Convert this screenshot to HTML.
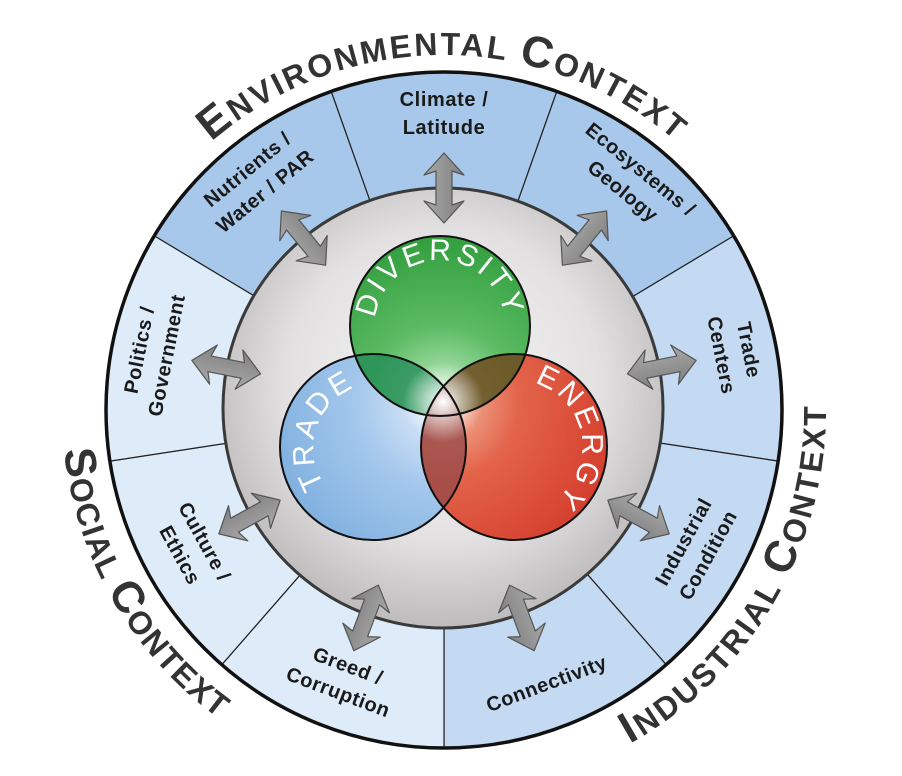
<!DOCTYPE html>
<html><head><meta charset="utf-8"><style>html,body{margin:0;padding:0;background:#fff}svg{display:block}</style></head><body>
<svg width="902" height="776" viewBox="0 0 902 776" xmlns="http://www.w3.org/2000/svg" font-family="Liberation Sans, sans-serif">
<defs>
<radialGradient id="gray" cx="50%" cy="45%" r="55%"><stop offset="0" stop-color="#f9f9f9"/><stop offset="0.65" stop-color="#e2e0e0"/><stop offset="1" stop-color="#bdbbbb"/></radialGradient>
<radialGradient id="gG" cx="443" cy="402" r="170" gradientUnits="userSpaceOnUse"><stop offset="0" stop-color="#c8efc8"/><stop offset="0.45" stop-color="#5cbb64"/><stop offset="1" stop-color="#2f9d3c"/></radialGradient>
<radialGradient id="gB" cx="443" cy="402" r="190" gradientUnits="userSpaceOnUse"><stop offset="0" stop-color="#e6f0fb"/><stop offset="0.45" stop-color="#a5c8ec"/><stop offset="1" stop-color="#7badde"/></radialGradient>
<radialGradient id="gR" cx="443" cy="402" r="190" gradientUnits="userSpaceOnUse"><stop offset="0" stop-color="#f5c0a8"/><stop offset="0.4" stop-color="#e3644a"/><stop offset="1" stop-color="#d33a2a"/></radialGradient>
<radialGradient id="glow" cx="443" cy="402" r="40" gradientUnits="userSpaceOnUse"><stop offset="0" stop-color="#fff" stop-opacity="1"/><stop offset="1" stop-color="#fff" stop-opacity="0"/></radialGradient>
<linearGradient id="arr" x1="0" y1="0" x2="1" y2="0"><stop offset="0" stop-color="#a8a8a8"/><stop offset="1" stop-color="#808080"/></linearGradient>
<clipPath id="cG"><circle cx="440" cy="326" r="90"/></clipPath>
<clipPath id="cB"><circle cx="373" cy="447" r="93"/></clipPath>
<path id="pEnv" d="M206.5,146.2 A355,355 0 0 1 681.5,146.2"/>
<path id="pSoc" d="M85,279.4 A382,382 0 0 0 377.7,786.2"/>
<path id="pInd" d="M510.3,786.2 A382,382 0 0 0 803,279.4"/>
<path id="pDiv" d="M376.1,337.2 A65,65 0 1 1 503.9,337.2"/>
<path id="pTra" d="M350.8,508 A66,66 0 0 1 391.2,383.6"/>
<path id="pEne" d="M504.8,381.6 A66,66 0 0 1 527.7,511.6"/>
<polygon id="ar" points="0,-35 20,-13 8,-17 8,17 20,13 0,35 -20,13 -8,17 -8,-17 -20,-13" fill="url(#arr)" stroke="#555" stroke-width="1.2" stroke-linejoin="round"/>
</defs>
<g stroke="#222" stroke-width="1.2">
<path d="M444,410 L331.2,91.4 A338,338 0 0 1 556.8,91.4Z" fill="#a7c8ea"/>
<path d="M444,410 L556.8,91.4 A338,338 0 0 1 733.7,235.9Z" fill="#a7c8ea"/>
<path d="M444,410 L154.3,235.9 A338,338 0 0 1 331.2,91.4Z" fill="#a7c8ea"/>
<path d="M444,410 L733.7,235.9 A338,338 0 0 1 778.1,461.1Z" fill="#c3daf2"/>
<path d="M444,410 L778.1,461.1 A338,338 0 0 1 666.2,664.7Z" fill="#c3daf2"/>
<path d="M444,410 L666.2,664.7 A338,338 0 0 1 444,748Z" fill="#c3daf2"/>
<path d="M444,410 L444,748 A338,338 0 0 1 221.8,664.7Z" fill="#deecf9"/>
<path d="M444,410 L221.8,664.7 A338,338 0 0 1 109.9,461.1Z" fill="#deecf9"/>
<path d="M444,410 L109.9,461.1 A338,338 0 0 1 154.3,235.9Z" fill="#deecf9"/>
</g>
<circle cx="444" cy="410" r="338" fill="none" stroke="#111" stroke-width="3.5"/>
<circle cx="443" cy="408" r="220" fill="url(#gray)" stroke="#3a3a3a" stroke-width="3"/>

<circle cx="373" cy="447" r="93" fill="url(#gB)"/>
<circle cx="514" cy="447" r="93" fill="url(#gR)"/>
<circle cx="440" cy="326" r="90" fill="url(#gG)"/>
<g clip-path="url(#cG)"><circle cx="373" cy="447" r="93" fill="#1f8a55" opacity="0.75"/><circle cx="514" cy="447" r="93" fill="#6e4a1e" opacity="0.85"/></g>
<g clip-path="url(#cB)"><circle cx="514" cy="447" r="93" fill="#9a4a48" opacity="0.8"/></g>
<circle cx="443" cy="402" r="40" fill="url(#glow)"/>
<g fill="none" stroke="#111" stroke-width="2"><circle cx="373" cy="447" r="93"/><circle cx="514" cy="447" r="93"/><circle cx="440" cy="326" r="90"/></g>

<g font-size="30" fill="#fff" letter-spacing="3.5">
<text><textPath href="#pDiv" startOffset="50%" text-anchor="middle">DIVERSITY</textPath></text>
<text><textPath href="#pTra" startOffset="50%" text-anchor="middle">TRADE</textPath></text>
<text><textPath href="#pEne" startOffset="50%" text-anchor="middle">ENERGY</textPath></text>
</g>

<use href="#ar" transform="translate(444,188)"/>
<use href="#ar" transform="translate(584.5,238.1) rotate(39.25)"/>
<use href="#ar" transform="translate(303.5,238.1) rotate(-39.25)"/>
<use href="#ar" transform="translate(661.8,367.1) rotate(78.85)"/>
<use href="#ar" transform="translate(226.2,367.1) rotate(-78.85)"/>
<use href="#ar" transform="translate(638.5,517) rotate(118.8)"/>
<use href="#ar" transform="translate(249.5,517) rotate(-118.8)"/>
<use href="#ar" transform="translate(521.9,617.9) rotate(159.45)"/>
<use href="#ar" transform="translate(366.1,617.9) rotate(-159.45)"/>

<g font-size="20" font-weight="bold" fill="#1a1a1a" text-anchor="middle" letter-spacing="0.6">
<text transform="translate(444,118)"><tspan x="0" y="-12">Climate /</tspan><tspan x="0" y="16">Latitude</tspan></text>
<text transform="translate(259.2,183.9) rotate(-39.25)"><tspan x="0" y="-12">Nutrients /</tspan><tspan x="0" y="16">Water / PAR</tspan></text>
<text transform="translate(628.8,183.9) rotate(39.25)"><tspan x="0" y="-12">Ecosystems /</tspan><tspan x="0" y="16">Geology</tspan></text>
<text transform="translate(730.5,353.5) rotate(78.85)"><tspan x="0" y="-12">Trade</tspan><tspan x="0" y="16">Centers</tspan></text>
<text transform="translate(699.9,550.7) rotate(-61.2)"><tspan x="0" y="-12">Industrial</tspan><tspan x="0" y="16">Condition</tspan></text>
<text transform="translate(546.5,683.4) rotate(-20.55)"><tspan x="0" y="7">Connectivity</tspan></text>
<text transform="translate(341.5,683.4) rotate(20.55)"><tspan x="0" y="-12">Greed /</tspan><tspan x="0" y="16">Corruption</tspan></text>
<text transform="translate(188.1,550.7) rotate(61.2)"><tspan x="0" y="-12">Culture /</tspan><tspan x="0" y="16">Ethics</tspan></text>
<text transform="translate(157.5,353.5) rotate(-78.85)"><tspan x="0" y="-12">Politics /</tspan><tspan x="0" y="16">Government</tspan></text>
</g>

<g font-weight="bold" fill="#333" font-size="32">
<text letter-spacing="2.5"><textPath href="#pEnv" startOffset="50%" text-anchor="middle"><tspan font-size="44">E</tspan>NVIRONMENTAL <tspan font-size="44">C</tspan>ONTEXT</textPath></text>
<text letter-spacing="1.5"><textPath href="#pSoc" startOffset="50%" text-anchor="middle"><tspan font-size="44">S</tspan>OCIAL <tspan font-size="44">C</tspan>ONTEXT</textPath></text>
<text letter-spacing="2.5"><textPath href="#pInd" startOffset="50%" text-anchor="middle"><tspan font-size="44">I</tspan>NDUSTRIAL <tspan font-size="44">C</tspan>ONTEXT</textPath></text>
</g>
</svg>
</body></html>
